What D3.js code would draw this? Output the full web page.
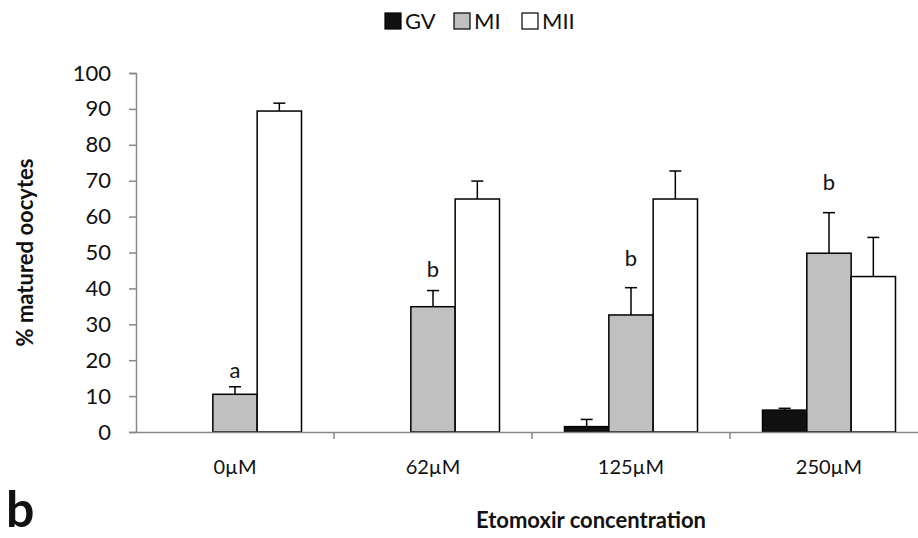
<!DOCTYPE html>
<html>
<head>
<meta charset="utf-8">
<script src="https://cdn.jsdelivr.net/npm/d3@7"></script>
<style>
  body { margin: 0; background: #fff; }
  text { font-family: Lato, "Open Sans", sans-serif; fill: #111; }
</style>
</head>
<body>
<div id="chart"></div>
<script>
// data
const concentrations = ["0\u00b5M", "62\u00b5M", "125\u00b5M", "250\u00b5M"];
const stages = ["GV", "MI", "MII"];
const gvValues = [0, 0, 1.5, 6.1];
const miValues = [10.5, 34.9, 32.6, 49.8];
const miiValues = [89.4, 64.9, 64.9, 43.3];
const gvErr = [0, 0, 2.0, 0.5];
const miErr = [2.1, 4.5, 7.6, 11.3];
const miiErr = [2.2, 5.0, 7.8, 10.9];
const yTicks = [0, 10, 20, 30, 40, 50, 60, 70, 80, 90, 100];
// significance letters above the MI bars (baseline given in % units)
const sigLetters = ["a", "b", "b", "b"];
const sigAt = [15.0, 43.3, 46.2, 67.4];

const W = 918, H = 538;
const margin = { top: 73, left: 136, bottom: 106 };
const plotH = H - margin.top - margin.bottom; // 0..100 -> 432..73

const svg = d3.select("#chart").append("svg")
    .attr("width", W).attr("height", H);

// x scale: one band per concentration (last band runs past the right edge)
const xScale = d3.scaleBand()
    .domain(concentrations)
    .range([margin.left, margin.left + 4 * 198])
    .padding(0);

// bars inside a band, gap width ~150%
const xSub = d3.scaleBand()
    .domain(stages)
    .range([32.5, 198 - 32.5])
    .padding(0);

const yScale = d3.scaleLinear()
    .domain([0, 100])
    .range([margin.top + plotH, margin.top]);

const fill = d3.scaleOrdinal().domain(stages).range(["#111111", "#c0c0c0", "#ffffff"]);

const rows = concentrations.map((c, i) => ({
    conc: c,
    bars: [
        { key: "GV", value: gvValues[i], err: gvErr[i] },
        { key: "MI", value: miValues[i], err: miErr[i] },
        { key: "MII", value: miiValues[i], err: miiErr[i] }
    ]
}));

// y axis
const yAxis = svg.append("g")
    .attr("transform", `translate(${margin.left},0)`)
    .call(d3.axisLeft(yScale).tickValues(yTicks).tickSize(7).tickPadding(18));
yAxis.select(".domain").attr("stroke", "#878787").attr("stroke-width", 1.5);
yAxis.selectAll(".tick line").attr("stroke", "#878787").attr("stroke-width", 1.5);
yAxis.selectAll(".tick text")
    .style("font-size", "22px")
    .style("font-family", "Lato, 'Open Sans', sans-serif")
    .attr("fill", "#111");

// groups and bars
const groups = svg.selectAll(".grp")
    .data(rows)
    .enter().append("g")
    .attr("class", "grp")
    .attr("transform", d => `translate(${xScale(d.conc)},0)`);

groups.selectAll("rect")
    .data(d => d.bars.filter(b => b.value > 0))
    .enter().append("rect")
    .attr("x", d => xSub(d.key))
    .attr("y", d => yScale(d.value))
    .attr("width", xSub.bandwidth())
    .attr("height", d => yScale(0) - yScale(d.value))
    .attr("fill", d => fill(d.key))
    .attr("stroke", "#000")
    .attr("stroke-width", 1.5);

// upper error bars
const errs = groups.selectAll(".err")
    .data(d => d.bars.filter(b => b.value > 0 && b.err > 0))
    .enter().append("g").attr("class", "err");
errs.append("line")
    .attr("x1", d => xSub(d.key) + xSub.bandwidth() / 2)
    .attr("x2", d => xSub(d.key) + xSub.bandwidth() / 2)
    .attr("y1", d => yScale(d.value))
    .attr("y2", d => yScale(d.value + d.err))
    .attr("stroke", "#000").attr("stroke-width", 1.5);
errs.append("line")
    .attr("x1", d => xSub(d.key) + xSub.bandwidth() / 2 - 6)
    .attr("x2", d => xSub(d.key) + xSub.bandwidth() / 2 + 6)
    .attr("y1", d => yScale(d.value + d.err))
    .attr("y2", d => yScale(d.value + d.err))
    .attr("stroke", "#000").attr("stroke-width", 1.5);

// significance letters
groups.append("text")
    .attr("x", xSub("MI") + xSub.bandwidth() / 2)
    .attr("y", (d, i) => yScale(sigAt[i]))
    .attr("text-anchor", "middle")
    .style("font-size", "22px")
    .text((d, i) => sigLetters[i]);

// x axis (drawn after bars, so it sits on top)
const xAxis = svg.append("g")
    .attr("transform", `translate(0,${yScale(0)})`)
    .call(d3.axisBottom(xScale).tickSize(0).tickPadding(28));
xAxis.select(".domain").attr("stroke", "#878787").attr("stroke-width", 1.5);
xAxis.selectAll(".tick text")
    .style("font-size", "20px")
    .style("font-family", "Lato, 'Open Sans', sans-serif")
    .attr("fill", "#111");
// category separators
xAxis.selectAll(".sep")
    .data(concentrations.slice(1))
    .enter().append("line")
    .attr("class", "sep")
    .attr("x1", d => xScale(d)).attr("x2", d => xScale(d))
    .attr("y1", 0).attr("y2", 7)
    .attr("stroke", "#878787").attr("stroke-width", 1.5);

// axis titles
svg.append("text")
    .attr("transform", `translate(33,${yScale(50)}) rotate(-90)`)
    .attr("text-anchor", "middle")
    .style("font-size", "22px")
    .style("font-weight", "bold")
    .text("% matured oocytes");

svg.append("text")
    .attr("x", 591).attr("y", 528)
    .attr("text-anchor", "middle")
    .style("font-size", "22px")
    .style("font-weight", "bold")
    .text("Etomoxir concentration");

svg.append("text")
    .attr("x", 6).attr("y", 527)
    .style("font-size", "50px")
    .style("font-weight", "bold")
    .text("b");

// legend
const legendX = [385, 454, 522];
const legend = svg.append("g");
const li = legend.selectAll(".li")
    .data(stages)
    .enter().append("g")
    .attr("transform", (d, i) => `translate(${legendX[i]},13)`);
li.append("rect")
    .attr("width", 16).attr("height", 16)
    .attr("fill", d => fill(d))
    .attr("stroke", "#000").attr("stroke-width", 1.2);
li.append("text")
    .attr("x", 20).attr("y", 16)
    .style("font-size", "22px")
    .text(d => d);
</script>
</body>
</html>
